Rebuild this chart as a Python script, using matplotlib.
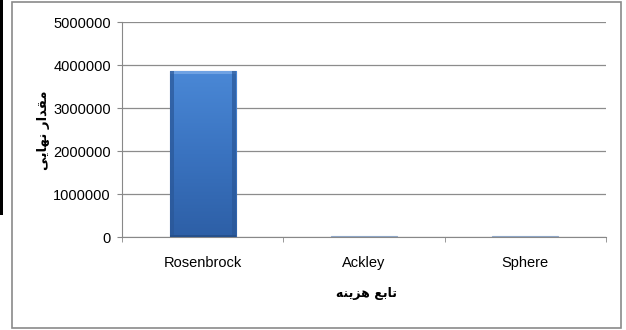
import matplotlib.pyplot as plt
import numpy as np
from matplotlib.patches import Rectangle

# داده‌ها
توابع = ['Rosenbrock', 'Ackley', 'Sphere']
مقادیر = [3850000, 20000, 20000]
y_ticks = [0, 1000000, 2000000, 3000000, 4000000, 5000000]

# متن فارسی به صورت شکل‌های نمایشی (ترتیب دیداری)
برچسب_x = '\uFEEA\uFEE8\uFEF3\uFEB0\uFEEB \uFECA\uFE91\uFE8E\uFE97'        # تابع هزینه
برچسب_y = '\uFEF0\uFEF3\uFE8E\uFEEC\uFEE7 \uFEAD\uFE8D\uFEAA\uFED8\uFEE3'  # مقدار نهایی

plt.rcParams['font.family'] = ['Liberation Sans', 'DejaVu Sans']

fig = plt.figure(figsize=(6.26, 3.30), dpi=100)
ax = fig.add_axes([0.1949, 0.2818, 0.7731, 0.6515])

x = np.arange(len(توابع))
bars = ax.bar(x, مقادیر, width=0.41, color='#3b74c2', edgecolor='#2c5a98',
              linewidth=0.8, zorder=3)

# گرادیان آبی روی میله‌ها
grad = np.linspace(0, 1, 256).reshape(-1, 1)
cmap = plt.matplotlib.colors.LinearSegmentedColormap.from_list(
    'blu', ['#2d5fa6', '#3a73c0', '#4a88d6'])
for b in bars:
    x0, w, h = b.get_x(), b.get_width(), b.get_height()
    if h < 100000:
        b.set_facecolor('#8fa6c6')
        b.set_edgecolor('#8fa6c6')
        continue
    im = ax.imshow(grad, extent=[x0, x0 + w, 0, h], origin='lower', cmap=cmap,
                   aspect='auto', zorder=3.5)
    im.set_clip_path(b)
    # لبه‌های برجسته
    ax.add_patch(Rectangle((x0, h * 0.985), w, h * 0.015, color='#6fa2e3', zorder=4, lw=0))
    ax.add_patch(Rectangle((x0, 0), w * 0.06, h, color='#2a5797', zorder=4, lw=0, alpha=0.7))
    ax.add_patch(Rectangle((x0 + w * 0.94, 0), w * 0.06, h, color='#2a5797', zorder=4, lw=0, alpha=0.7))
    ax.add_patch(Rectangle((x0, 0), w, h * 0.012, color='#25508c', zorder=4, lw=0))

ax.set_xlim(-0.5, 2.5)
ax.set_ylim(0, 5000000)
ax.set_yticks(y_ticks)
ax.set_yticklabels([str(v) for v in y_ticks], fontsize=10.5)
ax.set_xticks(x)
ax.set_xticklabels(توابع, fontsize=10.5)
ax.set_xticks([-0.5, 0.5, 1.5, 2.5], minor=True)
ax.tick_params(axis='x', which='major', length=0, pad=14)
ax.tick_params(axis='x', which='minor', length=3.6, color='#888888')
ax.tick_params(axis='y', length=3.6, color='#888888', pad=4.5)

ax.grid(axis='y', color='#8c8c8c', linewidth=0.9, zorder=0)
for s in ['top', 'right']:
    ax.spines[s].set_visible(False)
ax.spines['left'].set_color('#888888')
ax.spines['bottom'].set_color('#888888')

# عنوان محورها
fig.text(367 / 626, 1 - 294 / 330, برچسب_x, fontsize=9, fontweight='bold',
         family='DejaVu Sans', ha='center', va='center')
fig.text(43 / 626, 1 - 130 / 330, برچسب_y, fontsize=9.5, fontweight='bold',
         family='DejaVu Sans', ha='center', va='center', rotation=90)

# قاب دور نمودار
fig.patches.append(Rectangle((12 / 626, 2 / 330), 609 / 626, 326 / 330, transform=fig.transFigure,
                             fill=False, edgecolor='#8a8a8a', linewidth=1.2))
fig.patches.append(Rectangle((0, 115 / 330), 3 / 626, 215 / 330, transform=fig.transFigure,
                             color='black', lw=0))

fig.savefig('out.png', dpi=100)
